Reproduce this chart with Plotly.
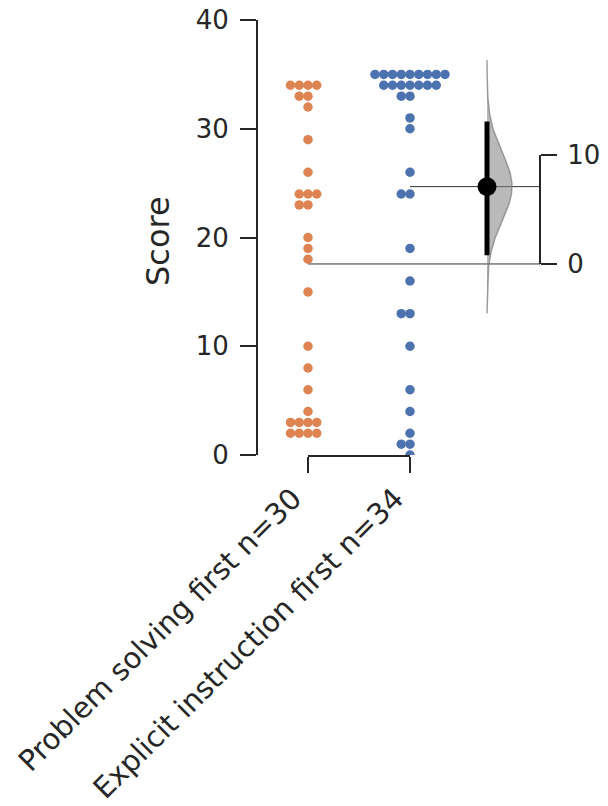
import numpy as np
import plotly.graph_objects as go

# ---------------- data ----------------
categories = ["Problem solving first n=30", "Explicit instruction first n=34"]
problem_first = [34, 34, 34, 34, 33, 33, 32, 29, 26, 24, 24, 24, 23, 23, 20, 19, 18,
                 15, 10, 8, 6, 4, 3, 3, 3, 3, 2, 2, 2, 2]
explicit_first = [35, 35, 35, 35, 35, 35, 35, 35, 35, 34, 34, 34, 34, 34, 34, 34,
                  33, 33, 31, 30, 26, 24, 24, 19, 16, 13, 13, 10, 6, 4, 2, 1, 1, 0]
ci_low, ci_high = 0.8, 13.1          # 95% CI of the mean difference (read)
y_ticks = [0, 10, 20, 30, 40]
delta_ticks = [0, 10]

colors = ["#DD8452", "#4C72B0"]
ink = "#262626"

# ---------------- geometry (page has an 8px body margin) ----------------
PAGE = 8
W, H = 608 - PAGE, 806 - PAGE
spine_left, spine_right, top_px, bottom_px = 258, 540, 20, 455   # target screen pixels
L = spine_left - PAGE
T = top_px - PAGE
R = W - (spine_right - PAGE)
B = H - (bottom_px - PAGE)
plot_w = W - L - R
cat0_px, cat1_px = 308, 410
px_per_cat = float(cat1_px - cat0_px)
x_min = -(cat0_px - spine_left) / px_per_cat
x_max = x_min + plot_w / px_per_cat
violin_x = (487 - cat0_px) / px_per_cat
dot_step = 8.75 / px_per_cat


def swarm_offsets(values):
    vals = np.asarray(values, dtype=float)
    offs = np.zeros(len(vals))
    order = [0]
    for k in range(1, 20):
        order += [-k, k]
    for v in np.unique(vals):
        idx = np.where(vals == v)[0]
        for j, i in enumerate(idx):
            offs[i] = order[j] * dot_step
    return offs


fig = go.Figure()

groups = [problem_first, explicit_first]
means = [float(np.mean(g)) for g in groups]

# mean reference lines
fig.add_trace(go.Scatter(x=[0, x_max], y=[means[0], means[0]], mode="lines",
                         line=dict(color="#333333", width=1), showlegend=False, hoverinfo="skip"))
fig.add_trace(go.Scatter(x=[1, x_max], y=[means[1], means[1]], mode="lines",
                         line=dict(color="#333333", width=1), showlegend=False, hoverinfo="skip"))

for i, g in enumerate(groups):
    xs = i + swarm_offsets(g)
    fig.add_trace(go.Scatter(x=xs, y=g, mode="markers",
                             marker=dict(size=9.5, color=colors[i], line=dict(width=0)),
                             showlegend=False, hoverinfo="y"))

# effect size distribution (sampling distribution of the mean difference)
diff = means[1] - means[0]
se = np.sqrt(np.var(groups[0], ddof=1) / len(groups[0]) + np.var(groups[1], ddof=1) / len(groups[1]))
grid = np.linspace(diff - 3.7 * se, diff + 3.7 * se, 200)
dens = np.exp(-0.5 * ((grid - diff) / se) ** 2)
half_w = 25 / px_per_cat
vx = np.concatenate([[violin_x], violin_x + half_w * dens, [violin_x]])
vy = np.concatenate([[grid[0]], grid, [grid[-1]]]) + means[0]
fig.add_trace(go.Scatter(x=vx, y=vy, mode="lines", fill="toself",
                         fillcolor="rgba(128,128,128,0.55)",
                         line=dict(color="rgba(130,130,130,0.75)", width=1.5),
                         showlegend=False, hoverinfo="skip"))
# CI bar and point estimate
fig.add_trace(go.Scatter(x=[violin_x, violin_x], y=[ci_low + means[0], ci_high + means[0]],
                         mode="lines", line=dict(color="black", width=5),
                         showlegend=False, hoverinfo="skip"))
fig.add_trace(go.Scatter(x=[violin_x], y=[diff + means[0]], mode="markers",
                         marker=dict(size=19, color="black"),
                         showlegend=False, hoverinfo="skip"))

# dummy traces to show decoration axes
fig.add_trace(go.Scatter(x=[0, 1], y=[-100, -100], xaxis="x2", yaxis="y", mode="markers",
                         marker=dict(opacity=0), showlegend=False, hoverinfo="skip"))
fig.add_trace(go.Scatter(x=[x_min], y=[-100], xaxis="x", yaxis="y2", mode="markers",
                         marker=dict(opacity=0), showlegend=False, hoverinfo="skip"))

font = dict(family="DejaVu Sans", color=ink)
axis_common = dict(showline=True, linecolor=ink, linewidth=2, ticks="outside",
                   ticklen=16, tickwidth=2, tickcolor=ink, showgrid=False, zeroline=False,
                   automargin=False, ticklabeloverflow="allow")
ytick_font = dict(size=26, family="DejaVu Sans", color=ink)
xtick_font = dict(size=29, family="DejaVu Sans", color=ink)

fig.update_layout(
    width=W, height=H,
    margin=dict(l=L, r=R, t=T, b=B),
    paper_bgcolor="white", plot_bgcolor="rgba(0,0,0,0)",
    font=font,
    xaxis=dict(range=[x_min, x_max], visible=False, domain=[0, 1]),
    xaxis2=dict(domain=[(cat0_px - spine_left) / plot_w, (cat1_px - spine_left) / plot_w],
                range=[0, 1], anchor="y", tickvals=[0, 1], ticktext=categories,
                tickangle=-45, tickfont=xtick_font, ticklabelshift=-15,
                ticklabelstandoff=-3, **axis_common),
    yaxis=dict(range=[0, 40], domain=[0, 1], tickvals=y_ticks, tickfont=ytick_font,
               ticklabelstandoff=6, **axis_common),
    yaxis2=dict(range=[0, 10], domain=[means[0] / 40, (means[0] + 10) / 40],
                anchor="free", position=1, side="right", tickvals=delta_ticks,
                tickfont=ytick_font, ticklabelstandoff=5, **axis_common),
)
fig.add_annotation(text="Score", textangle=-90, showarrow=False,
                   xref="paper", yref="paper",
                   x=(158 - spine_left) / plot_w,
                   y=(bottom_px - 241) / (bottom_px - top_px),
                   xanchor="center", yanchor="middle",
                   font=dict(size=32, family="DejaVu Sans", color=ink))

fig.write_html("out.html")
